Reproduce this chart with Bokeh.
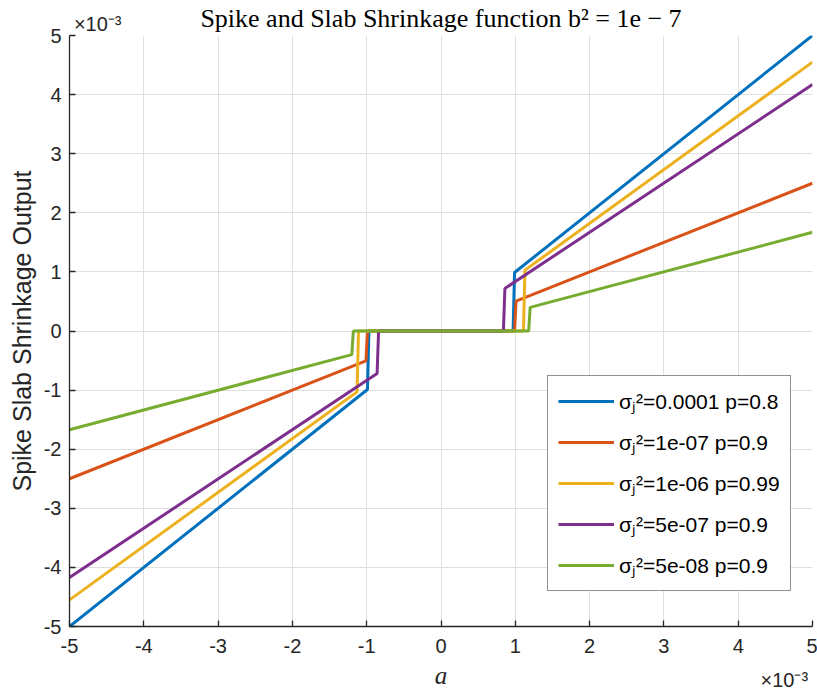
from bokeh.plotting import figure
from bokeh.models import Range1d, FixedTicker, Legend, LegendItem, LinearAxis
from bokeh.embed import file_html
from bokeh.resources import INLINE

# All a / output values are in units of 1e-3 (axes show the x10^-3 multiplier)
tick_values = [-5, -4, -3, -2, -1, 0, 1, 2, 3, 4, 5]
tick_labels = ["-5", "-4", "-3", "-2", "-1", "0", "1", "2", "3", "4", "5"]
title_text = "Spike and Slab Shrinkage function b² = 1e − 7"
multiplier_text = "×10⁻³"

series_labels = [
    "σⱼ²=0.0001 p=0.8",
    "σⱼ²=1e-07 p=0.9",
    "σⱼ²=1e-06 p=0.99",
    "σⱼ²=5e-07 p=0.9",
    "σⱼ²=5e-08 p=0.9",
]
series_colors = ["#0072BD", "#D95319", "#EDB120", "#7E2F8E", "#77AC30"]

# breakpoints of each piecewise-linear shrinkage curve
blue_a = [-5.0, -0.99, -0.97, 0.97, 0.99, 5.0]
blue_out = [-5.0, -0.99, 0.0, 0.0, 0.99, 5.0]
orange_a = [-5.0, -1.01, -0.99, 0.99, 1.01, 5.0]
orange_out = [-2.5, -0.505, 0.0, 0.0, 0.505, 2.5]
yellow_a = [-5.0, -1.13, -1.11, 1.11, 1.13, 5.0]
yellow_out = [-4.55, -1.03, 0.0, 0.0, 1.03, 4.55]
purple_a = [-5.0, -0.86, -0.84, 0.84, 0.86, 5.0]
purple_out = [-4.17, -0.72, 0.0, 0.0, 0.72, 4.17]
green_a = [-5.0, -1.2, -1.18, 1.18, 1.2, 5.0]
green_out = [-1.67, -0.40, 0.0, 0.0, 0.40, 1.67]

series_a = [blue_a, orange_a, yellow_a, purple_a, green_a]
series_out = [blue_out, orange_out, yellow_out, purple_out, green_out]

AX = "#262626"
SANS = "Liberation Sans"
SERIF = "Liberation Serif"

p = figure(width=817, height=695, x_range=Range1d(-5, 5), y_range=Range1d(-5, 5),
           output_backend="svg", toolbar_location=None, title=None,
           min_border_left=69, min_border_right=5, min_border_top=35, min_border_bottom=69)

p.outline_line_color = None

for ax in (p.xaxis[0], p.yaxis[0]):
    ax.ticker = FixedTicker(ticks=tick_values)
    ax.major_label_overrides = {v: s for v, s in zip(tick_values, tick_labels)}
    ax.major_tick_in = 6
    ax.major_tick_out = 0
    ax.minor_tick_line_color = None
    ax.axis_line_color = AX
    ax.axis_line_width = 1.3
    ax.major_tick_line_color = AX
    ax.major_tick_line_width = 1.3
    ax.major_label_text_font = SANS
    ax.major_label_text_font_size = "20px"
    ax.major_label_text_color = AX

p.xaxis.major_label_standoff = 12
p.yaxis.major_label_standoff = 8

p.xaxis.axis_label = "a"
p.xaxis.axis_label_text_font = SERIF
p.xaxis.axis_label_text_font_style = "italic"
p.xaxis.axis_label_text_font_size = "25px"
p.xaxis.axis_label_text_color = AX
p.xaxis.axis_label_standoff = 6

p.yaxis.axis_label = "Spike Slab Shrinkage Output"
p.yaxis.axis_label_text_font = SANS
p.yaxis.axis_label_text_font_style = "normal"
p.yaxis.axis_label_text_font_size = "25px"
p.yaxis.axis_label_text_color = AX
p.yaxis.axis_label_standoff = 5

p.grid.grid_line_color = "#dfdfdf"
p.xgrid.ticker = FixedTicker(ticks=tick_values)
p.ygrid.ticker = FixedTicker(ticks=tick_values)


def bare_axis(tick_pos, standoff):
    a = LinearAxis(ticker=FixedTicker(ticks=[tick_pos]),
                   major_label_overrides={tick_pos: multiplier_text})
    a.axis_line_color = None
    a.major_tick_line_color = None
    a.minor_tick_line_color = None
    a.major_tick_in = 0
    a.major_tick_out = 0
    a.major_label_standoff = standoff
    a.major_label_text_font = SANS
    a.major_label_text_font_size = "20px"
    a.major_label_text_color = AX
    return a


# top: x10^-3 multiplier at the left, and the chart title on the same row
top_axis = bare_axis(-4.62, 1)
top_axis.axis_label = title_text
top_axis.axis_label_text_font = SERIF
top_axis.axis_label_text_font_style = "normal"
top_axis.axis_label_text_font_size = "26px"
top_axis.axis_label_text_color = "#000000"
top_axis.axis_label_standoff = -23
p.add_layout(top_axis, "above")

# bottom-right x10^-3 multiplier, on the row of the x-axis label
bottom_axis = bare_axis(4.62, -23)
p.add_layout(bottom_axis, "below")

renderers = []
for xs, ys, c in zip(series_a, series_out, series_colors):
    renderers.append(p.line(xs, ys, line_color=c, line_width=3))

legend = Legend(items=[LegendItem(label=l, renderers=[r]) for l, r in zip(series_labels, renderers)],
                location=(478, 35))
legend.glyph_width = 56
legend.glyph_height = 30
legend.label_height = 30
legend.spacing = 11
legend.padding = 10
legend.margin = 0
legend.label_standoff = 5
legend.label_text_font = SANS
legend.label_text_font_size = "21px"
legend.label_text_color = "#000000"
legend.border_line_color = AX
legend.border_line_width = 1.3
legend.background_fill_color = "white"
p.add_layout(legend, "center")

open("out.html", "w").write(file_html(p, INLINE))
